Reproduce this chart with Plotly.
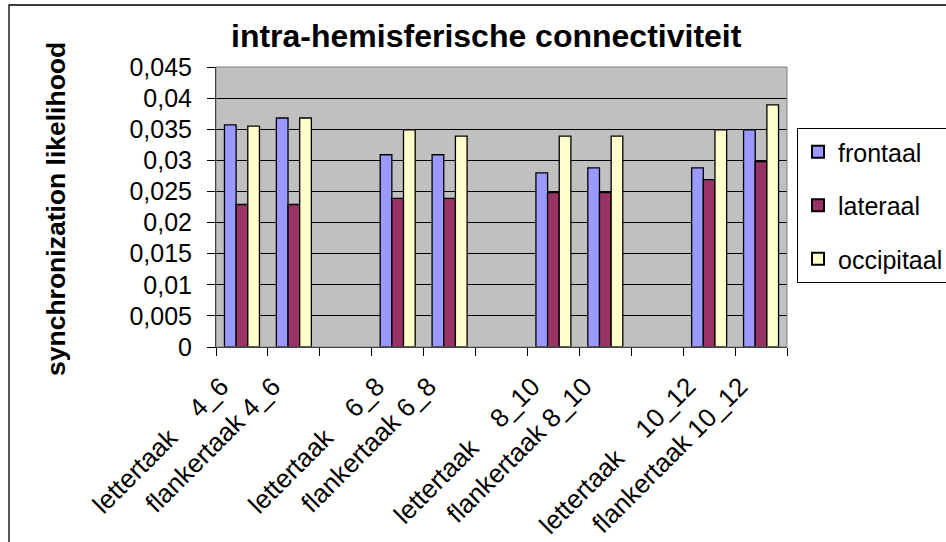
import plotly.graph_objects as go

NB = "\u00a0"
categories = [
    "lettertaak" + NB * 4 + "4_6", "flankertaak 4_6", "\u200b",
    "lettertaak" + NB * 4 + "6_8", "flankertaak 6_8", "\u200b\u200b",
    "lettertaak" + NB * 4 + "8_10", "flankertaak 8_10", "\u200b\u200b\u200b",
    "lettertaak" + NB * 4 + "10_12", "flankertaak 10_12",
]
frontaal = [0.0357, 0.0368, None, 0.0309, 0.0309, None, 0.0280, 0.0288, None, 0.0288, 0.0349]
lateraal = [0.0229, 0.0229, None, 0.0239, 0.0239, None, 0.0248, 0.0248, None, 0.0269, 0.0298]
occipitaal = [0.0355, 0.0368, None, 0.0349, 0.0339, None, 0.0339, 0.0339, None, 0.0349, 0.0389]
series_names = ["frontaal", "lateraal", "occipitaal"]
colors = ["#9999FF", "#993366", "#FFFFCC"]
y_tickvals = [0, 0.005, 0.01, 0.015, 0.02, 0.025, 0.03, 0.035, 0.04, 0.045]
y_ticktext = ["0", "0,005", "0,01", "0,015", "0,02", "0,025", "0,03", "0,035", "0,04", "0,045"]

FONT = "Liberation Sans, Arial, sans-serif"

fig = go.Figure()
for i, (name, vals) in enumerate(zip(series_names, [frontaal, lateraal, occipitaal])):
    fig.add_trace(go.Bar(
        x=categories, y=vals, name=name, legendgroup=name,
        marker=dict(color=colors[i], line=dict(color="black", width=1.3)),
    ))

L, R, T, B = 216, 159, 67, 195
PW, PH = 946 - L - R, 542 - T - B

def px(x):
    return (x - L) / PW

def py(y):
    return (542 - B - y) / PH

fig.update_layout(
    width=946, height=542,
    margin=dict(l=L, r=R, t=T, b=B, autoexpand=False),
    paper_bgcolor="white", plot_bgcolor="#C0C0C0",
    font=dict(family=FONT, size=25, color="black"),
    barmode="group", bargap=0.326, bargroupgap=0,
    showlegend=True,
    legend=dict(
        x=px(797), y=py(128), xanchor="left", yanchor="top",
        bgcolor="white", bordercolor="black", borderwidth=1,
        font=dict(family=FONT, size=25, color="black"),
        tracegroupgap=18, itemsizing="constant",
    ),
    xaxis=dict(
        type="category", tickson="boundaries", tickangle=-45,
        ticks="outside", ticklen=8, tickcolor="black", tickwidth=1,
        showline=True, linecolor="black", linewidth=1,
        showgrid=False, tickfont=dict(family=FONT, size=26),
        ticklabelstandoff=13, ticklabelshift=-21,
    ),
    yaxis=dict(
        range=[0, 0.045], tickvals=y_tickvals, ticktext=y_ticktext,
        ticks="outside", ticklen=8, tickcolor="black", tickwidth=1,
        showline=True, linecolor="black", linewidth=1,
        showgrid=True, gridcolor="black", gridwidth=1,
        zeroline=False, tickfont=dict(family=FONT, size=25),
        ticklabelstandoff=10,
    ),
    annotations=[
        dict(text="<b>intra-hemisferische connectiviteit</b>", xref="paper", yref="paper",
             x=px(486), y=py(36), xanchor="center", yanchor="middle", showarrow=False,
             font=dict(family=FONT, size=32, color="black")),
        dict(text="<b>synchronization likelihood</b>", xref="paper", yref="paper",
             x=px(56), y=py(209), xanchor="center", yanchor="middle", showarrow=False,
             textangle=-90, font=dict(family=FONT, size=26.5, color="black")),
    ],
    shapes=[
        dict(type="rect", xref="paper", yref="paper", x0=0, x1=1, y0=0, y1=1,
             line=dict(color="#808080", width=1), fillcolor="rgba(0,0,0,0)", layer="above"),
        dict(type="rect", xref="paper", yref="paper", x0=px(9), x1=px(1100), y0=py(700), y1=py(5),
             line=dict(color="black", width=1.3), fillcolor="rgba(0,0,0,0)"),
    ],
)

fig.write_html("out.html")
